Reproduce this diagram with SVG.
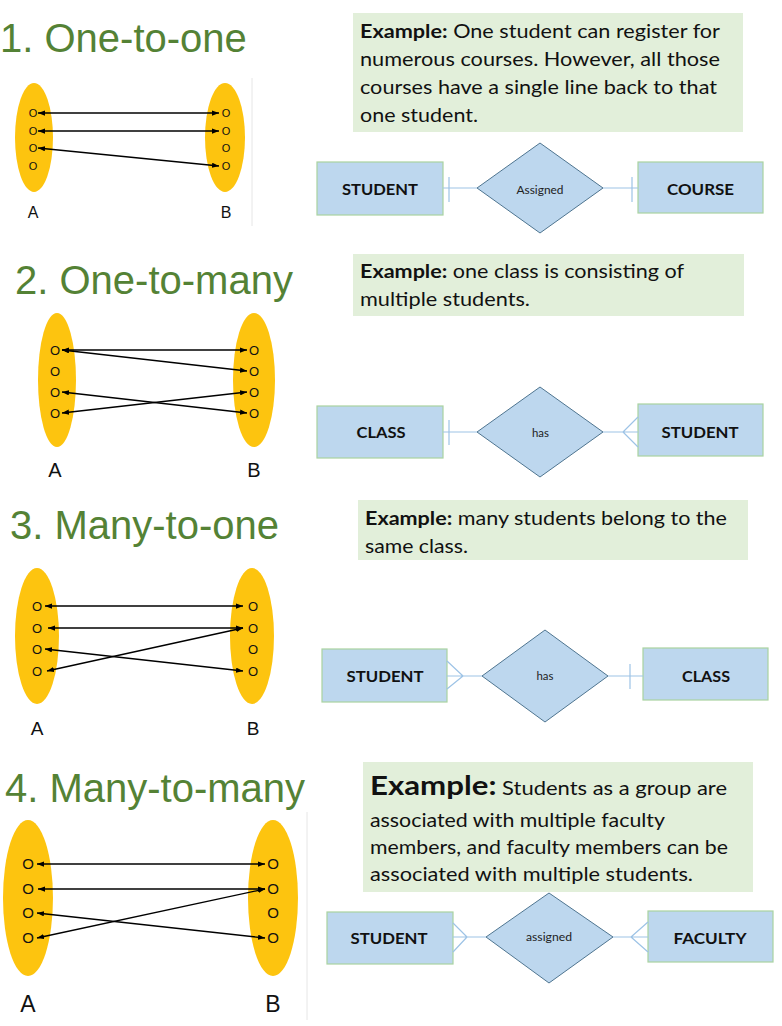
<svg xmlns="http://www.w3.org/2000/svg" width="782" height="1026" viewBox="0 0 782 1026">
<defs>
<style>
.bg{fill:#ffffff}
.h{font-family:"Liberation Sans",Arial,sans-serif;font-size:40px;fill:#548235}
.ell{fill:#fdc40f}
.o{font-family:"Liberation Sans",Arial,sans-serif;fill:#111;text-anchor:middle}
.lab{font-family:"Liberation Sans",Arial,sans-serif;fill:#111;text-anchor:middle}
.arr{stroke:#000;stroke-width:1.3;fill:none;marker-start:url(#ah);marker-end:url(#ah)}
.box{fill:#e2efda}
.t{font-family:Lato,"Open Sans",sans-serif;font-size:19px;fill:#111}
.b{font-weight:bold}
.ent{fill:#bdd7ee;stroke:#a9d3a0;stroke-width:1.2}
.rel{fill:#bdd7ee;stroke:#4f7590;stroke-width:1}
.en{font-family:Lato,"Open Sans",sans-serif;font-size:16px;font-weight:bold;fill:#111;text-anchor:middle}
.rn{font-family:Lato,"Open Sans",sans-serif;font-size:11px;fill:#222;text-anchor:middle}
.er{stroke:#9dc3e6;stroke-width:1.2;fill:none}
.edge{stroke:#e6e6e6;stroke-width:1}
</style>
<marker id="ah" viewBox="0 0 8 6" refX="8" refY="3" markerWidth="7" markerHeight="5.5" markerUnits="userSpaceOnUse" orient="auto-start-reverse">
<path d="M0,0 L8,3 L0,6 z" fill="#000"/>
</marker>
</defs>
<rect class="bg" x="0" y="0" width="782" height="1026"/>

<!-- headings -->
<g id="heading1"><text class="h" x="0" y="52">1. One-to-one</text></g>
<g id="heading2"><text class="h" x="15" y="294">2. One-to-many</text></g>
<g id="heading3"><text class="h" x="10" y="539">3. Many-to-one</text></g>
<g id="heading4"><text class="h" x="5" y="802">4. Many-to-many</text></g>

<!-- image edges -->
<line class="edge" x1="252" y1="78" x2="252" y2="226"/>
<line class="edge" x1="307" y1="812" x2="307" y2="1020"/>

<!-- Section 1 sets -->
<g id="set1A">
<ellipse class="ell" cx="34" cy="137.5" rx="19" ry="54.5"/>
<text class="o" font-size="11" x="33" y="117">O</text>
<text class="o" font-size="11" x="33" y="135">O</text>
<text class="o" font-size="11" x="33" y="152">O</text>
<text class="o" font-size="11" x="33" y="170">O</text>
<text class="lab" font-size="16" x="33" y="218">A</text>
</g>
<g id="set1B">
<ellipse class="ell" cx="225" cy="137.5" rx="20" ry="54.5"/>
<text class="o" font-size="11" x="226" y="117">O</text>
<text class="o" font-size="11" x="226" y="135">O</text>
<text class="o" font-size="11" x="226" y="152">O</text>
<text class="o" font-size="11" x="226" y="170">O</text>
<text class="lab" font-size="16" x="226" y="218">B</text>
</g>

<!-- Section 2 sets -->
<g id="set2A">
<ellipse class="ell" cx="57" cy="380" rx="19" ry="67"/>
<text class="o" font-size="13" x="55" y="355">O</text>
<text class="o" font-size="13" x="55" y="376">O</text>
<text class="o" font-size="13" x="55" y="397">O</text>
<text class="o" font-size="13" x="55" y="418">O</text>
<text class="lab" font-size="20" x="55" y="477">A</text>
</g>
<g id="set2B">
<ellipse class="ell" cx="254" cy="380" rx="21" ry="67"/>
<text class="o" font-size="13" x="254" y="355">O</text>
<text class="o" font-size="13" x="254" y="376">O</text>
<text class="o" font-size="13" x="254" y="397">O</text>
<text class="o" font-size="13" x="254" y="418">O</text>
<text class="lab" font-size="20" x="254" y="477">B</text>
</g>

<!-- Section 3 sets -->
<g id="set3A">
<ellipse class="ell" cx="37" cy="636" rx="22" ry="68"/>
<text class="o" font-size="13" x="37" y="611">O</text>
<text class="o" font-size="13" x="37" y="633">O</text>
<text class="o" font-size="13" x="37" y="654">O</text>
<text class="o" font-size="13" x="37" y="676">O</text>
<text class="lab" font-size="19" x="37" y="735">A</text>
</g>
<g id="set3B">
<ellipse class="ell" cx="252" cy="636" rx="22" ry="68"/>
<text class="o" font-size="13" x="253" y="611">O</text>
<text class="o" font-size="13" x="253" y="633">O</text>
<text class="o" font-size="13" x="253" y="654">O</text>
<text class="o" font-size="13" x="253" y="676">O</text>
<text class="lab" font-size="19" x="253" y="735">B</text>
</g>

<!-- Section 4 sets -->
<g id="set4A">
<ellipse class="ell" cx="28" cy="898" rx="25" ry="78"/>
<text class="o" font-size="15" x="28" y="869">O</text>
<text class="o" font-size="15" x="28" y="894">O</text>
<text class="o" font-size="15" x="28" y="918">O</text>
<text class="o" font-size="15" x="28" y="943">O</text>
<text class="lab" font-size="23" x="28" y="1012">A</text>
</g>
<g id="set4B">
<ellipse class="ell" cx="273" cy="898" rx="25" ry="78"/>
<text class="o" font-size="15" x="273" y="869">O</text>
<text class="o" font-size="15" x="273" y="894">O</text>
<text class="o" font-size="15" x="273" y="918">O</text>
<text class="o" font-size="15" x="273" y="943">O</text>
<text class="lab" font-size="23" x="273" y="1012">B</text>
</g>

<!-- Example boxes -->
<g id="example1">
<rect class="box" x="353" y="13" width="390" height="119"/>
<text class="t" x="360" y="38" textLength="360" lengthAdjust="spacingAndGlyphs"><tspan class="b">Example:</tspan> One student can register for</text>
<text class="t" x="360" y="66" textLength="360" lengthAdjust="spacingAndGlyphs">numerous courses. However, all those</text>
<text class="t" x="360" y="94" textLength="357" lengthAdjust="spacingAndGlyphs">courses have a single line back to that</text>
<text class="t" x="360" y="122" textLength="118" lengthAdjust="spacingAndGlyphs">one student.</text>
</g>
<g id="example2">
<rect class="box" x="353" y="254" width="391" height="62"/>
<text class="t" x="360" y="278" textLength="324" lengthAdjust="spacingAndGlyphs"><tspan class="b">Example:</tspan> one class is consisting of</text>
<text class="t" x="360" y="306" textLength="170" lengthAdjust="spacingAndGlyphs">multiple students.</text>
</g>
<g id="example3">
<rect class="box" x="358" y="500" width="390" height="60"/>
<text class="t" x="365" y="525" textLength="362" lengthAdjust="spacingAndGlyphs"><tspan class="b">Example:</tspan> many students belong to the</text>
<text class="t" x="365" y="553" textLength="103" lengthAdjust="spacingAndGlyphs">same class.</text>
</g>
<g id="example4">
<rect class="box" x="363" y="762" width="390" height="130"/>
<text class="t" x="370" y="795" textLength="357" lengthAdjust="spacingAndGlyphs"><tspan class="b" font-size="27">Example:</tspan> Students as a group are</text>
<text class="t" x="370" y="827" textLength="295" lengthAdjust="spacingAndGlyphs">associated with multiple faculty</text>
<text class="t" x="370" y="854" textLength="358" lengthAdjust="spacingAndGlyphs">members, and faculty members can be</text>
<text class="t" x="370" y="881" textLength="323" lengthAdjust="spacingAndGlyphs">associated with multiple students.</text>
</g>

<!-- ER 1 -->
<g id="er1-student">
<rect class="ent" x="317" y="162" width="126" height="53"/>
<text class="en" x="380" y="195" textLength="76" lengthAdjust="spacingAndGlyphs">STUDENT</text>
</g>
<g id="er1-assigned">
<polygon class="rel" points="477,188 540,143 603,188 540,233"/>
<text class="rn" x="540" y="194" textLength="47" lengthAdjust="spacingAndGlyphs">Assigned</text>
</g>
<g id="er1-course">
<rect class="ent" x="638" y="162" width="125" height="51"/>
<text class="en" x="700.5" y="195" textLength="67" lengthAdjust="spacingAndGlyphs">COURSE</text>
</g>

<!-- ER 2 -->
<g id="er2-class">
<rect class="ent" x="317" y="406" width="126" height="52"/>
<text class="en" x="381" y="438" textLength="49" lengthAdjust="spacingAndGlyphs">CLASS</text>
</g>
<g id="er2-has">
<polygon class="rel" points="477,432 540,387 603,432 540,477"/>
<text class="rn" x="540.5" y="437" textLength="17" lengthAdjust="spacingAndGlyphs">has</text>
</g>
<g id="er2-student">
<rect class="ent" x="638" y="404" width="125" height="52"/>
<text class="en" x="700" y="438" textLength="77" lengthAdjust="spacingAndGlyphs">STUDENT</text>
</g>

<!-- ER 3 -->
<g id="er3-student">
<rect class="ent" x="322" y="649" width="125" height="53"/>
<text class="en" x="385" y="682" textLength="77" lengthAdjust="spacingAndGlyphs">STUDENT</text>
</g>
<g id="er3-has">
<polygon class="rel" points="482,676 545,630 608,676 545,722"/>
<text class="rn" x="545" y="680" textLength="17" lengthAdjust="spacingAndGlyphs">has</text>
</g>
<g id="er3-class">
<rect class="ent" x="643" y="648" width="125" height="52"/>
<text class="en" x="706" y="682" textLength="48" lengthAdjust="spacingAndGlyphs">CLASS</text>
</g>

<!-- ER 4 -->
<g id="er4-student">
<rect class="ent" x="327" y="912" width="126" height="52"/>
<text class="en" x="389" y="944" textLength="77" lengthAdjust="spacingAndGlyphs">STUDENT</text>
</g>
<g id="er4-assigned">
<polygon class="rel" points="486,937 549,893 613,937 549,983"/>
<text class="rn" x="549" y="941" textLength="46" lengthAdjust="spacingAndGlyphs">assigned</text>
</g>
<g id="er4-faculty">
<rect class="ent" x="648" y="911" width="125" height="51"/>
<text class="en" x="710" y="944" textLength="73" lengthAdjust="spacingAndGlyphs">FACULTY</text>
</g>

<!-- connectors -->
<g id="connectors">
<!-- mapping arrows section 1 -->
<line class="arr" x1="38" y1="113" x2="219" y2="113"/>
<line class="arr" x1="38" y1="131" x2="219" y2="131"/>
<line class="arr" x1="38" y1="148" x2="219" y2="166"/>
<!-- section 2 -->
<line class="arr" x1="62" y1="350" x2="247" y2="350"/>
<line class="arr" x1="62" y1="350" x2="247" y2="371"/>
<line class="arr" x1="62" y1="392" x2="247" y2="413"/>
<line class="arr" x1="62" y1="413" x2="247" y2="392"/>
<!-- section 3 -->
<line class="arr" x1="45" y1="606" x2="243" y2="606"/>
<line class="arr" x1="48" y1="628" x2="243" y2="628"/>
<line class="arr" x1="45" y1="649" x2="243" y2="671"/>
<line class="arr" x1="47" y1="671" x2="243" y2="628"/>
<!-- section 4 -->
<line class="arr" x1="37" y1="864" x2="265" y2="864"/>
<line class="arr" x1="38" y1="889" x2="265" y2="889"/>
<line class="arr" x1="37" y1="913" x2="265" y2="938"/>
<line class="arr" x1="37" y1="938" x2="265" y2="889"/>

<!-- ER 1 -->
<path class="er" d="M443,188 H477 M449,177 V202 M603,188 H638 M632,177 V202"/>
<!-- ER 2 -->
<path class="er" d="M443,432 H477 M449,420 V445 M603,432 H638 M623,432 L638,417 M623,432 L638,447"/>
<!-- ER 3 -->
<path class="er" d="M447,676 H482 M463,676 L447,661 M463,676 L447,689 M608,676 H643 M630,664 V689"/>
<!-- ER 4 -->
<path class="er" d="M453,937 H486 M467,937 L453,923 M467,937 L453,952 M613,937 H648 M631,937 L648,922 M631,937 L648,952"/>
</g>
</svg>
